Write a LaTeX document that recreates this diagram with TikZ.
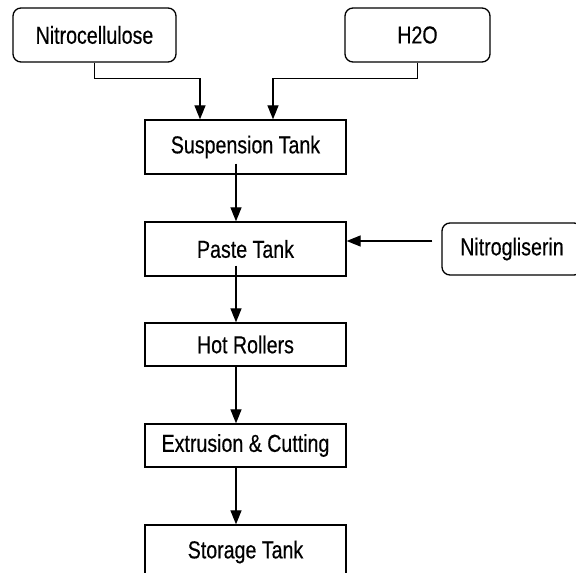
\documentclass[tikz,border=0pt]{standalone}
\usepackage{fontspec}
\setmainfont{Liberation Sans}[FakeStretch=0.8, FakeBold=0.4]
\usepackage{tikz}
\usetikzlibrary{arrows.meta, positioning, calc}

\begin{document}
\begin{tikzpicture}[x=1pt, y=1pt,
    proc/.style={draw, line width=1.3pt, minimum width=201pt, inner sep=0pt,
      font=\fontsize{24.5}{29}\selectfont},
    src/.style={proc, rounded corners=8pt, minimum height=54pt},
    flow/.style={line width=1.3pt, -{Triangle[length=14pt, width=11pt]}}]

  %% page, cut at the right and at the bottom
  \clip (0,0) rectangle (576,573);
  \fill[white] (0,0) rectangle (576,573);

  %% raw materials
  \node[src, minimum width=163pt] (nitro) at (94.5,538) {Nitrocellulose};
  \node[src, minimum width=145pt] (water) at (417.5,538) {H2O};
  \node[src, minimum width=140pt, minimum height=52pt] (nitrog) at (512,324) {Nitrogliserin};

  %% process line
  \node[proc, minimum height=54pt] (susp) at (245.5,426) {Suspension Tank};
  \node[proc, minimum height=54pt] (paste) at (245.5,324) {Paste Tank};
  \node[proc, minimum height=43pt] (rollers) at (245.5,228.5) {\raisebox{-3pt}{Hot Rollers}};
  \node[proc, minimum height=43pt] (extr) at (245.5,127.5) {\raisebox{-4pt}{Extrusion \& Cutting}};
  \node[proc, minimum height=54pt] (storage) at (245.5,21) {Storage Tank};

  %% feeds
  \draw[flow] (nitro.south) -- ++(0,-16) -| ([xshift=-45.5pt]susp.north);
  \draw[flow] (water.south) -- ++(0,-16) -| ([xshift=27.5pt]susp.north);
  \draw[flow, shorten <=9pt] ([yshift=8pt]nitrog.west) -- ([yshift=8pt]paste.east);

  %% down the line
  \draw[flow] ([xshift=-9.5pt, yshift=11pt]susp.south) -- ([xshift=-9.5pt]paste.north);
  \draw[flow] ([xshift=-9.5pt, yshift=11pt]paste.south) -- ([xshift=-9.5pt]rollers.north);
  \draw[flow] ([xshift=-9.5pt]rollers.south) -- ([xshift=-9.5pt]extr.north);
  \draw[flow] ([xshift=-9.5pt]extr.south) -- ([xshift=-9.5pt]storage.north);

\end{tikzpicture}
\end{document}
